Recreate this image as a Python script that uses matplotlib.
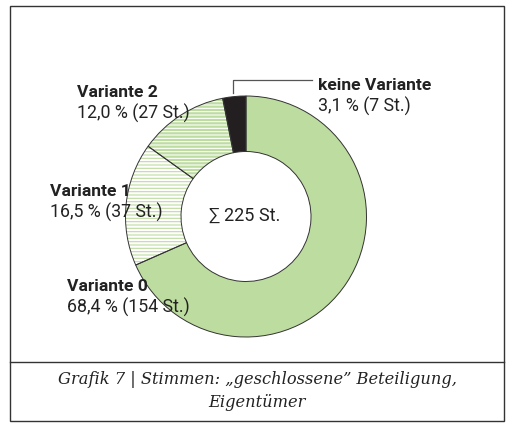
import matplotlib
matplotlib.use("Agg")
import matplotlib.pyplot as plt
from matplotlib.patches import Rectangle

# data
labels = ["Variante 0", "Variante 1", "Variante 2", "keine Variante"]
shares = [68.4, 16.5, 12.0, 3.1]
counts = [154, 37, 27, 7]
total = 225

green = "#bddc9f"
black = "#231f20"
dark = "#333333"
txt = "#222222"

plt.rcParams['font.family'] = ['Roboto', 'DejaVu Sans']
plt.rcParams['hatch.linewidth'] = 0.8

fig = plt.figure(figsize=(5.1, 4.3), dpi=100)
ax = fig.add_axes([0, 0, 1, 1])

H = 430
cx, cy = 246, H - 216.5
r_out, r_in = 120.5, 65

# fill first (with hatches), outline afterwards
wedges, _ = ax.pie(shares, center=(cx, cy), radius=r_out, startangle=90,
                   counterclock=False, frame=True,
                   wedgeprops=dict(width=r_out - r_in, linewidth=0))

styles = [
    dict(facecolor=green, edgecolor=green, hatch=None),
    dict(facecolor="white", edgecolor=green, hatch="-----"),
    dict(facecolor=green, edgecolor="white", hatch="-----"),
    dict(facecolor=black, edgecolor=black, hatch=None),
]
for w, s in zip(wedges, styles):
    w.set_facecolor(s['facecolor'])
    w.set_edgecolor(s['edgecolor'])
    if s['hatch']:
        w.set_hatch(s['hatch'])
    w.set_linewidth(0)

outline, _ = ax.pie(shares, center=(cx, cy), radius=r_out, startangle=90,
                    counterclock=False, frame=True,
                    wedgeprops=dict(width=r_out - r_in, fill=False,
                                    edgecolor=dark, linewidth=0.7))
ax.set_xlim(0, 510)
ax.set_ylim(0, 430)
ax.set_aspect('equal')
ax.axis('off')

# labels
label_pos = {
    "Variante 0": (67, 291),
    "Variante 1": (50, 196),
    "Variante 2": (77, 97),
    "keine Variante": (318, 90),
}
for name, pct, n in zip(labels, shares, counts):
    x, y = label_pos[name]
    ax.text(x, H - y, name, fontsize=12.6, fontweight='bold', color=txt,
            ha='left', va='baseline')
    sub = f"{pct:.1f} % ({n} St.)".replace('.', ',', 1)
    ax.text(x, H - y - 22, sub, fontsize=12.8, color=txt,
            ha='left', va='baseline')

# leader line for the small slice
ax.plot([233, 233, 312], [H - 93, H - 80, H - 80], color="#555555", lw=0.9)

ax.text(cx - 1, cy + 1, f"\u2211 {total} St.", fontsize=13, color=txt,
        ha='center', va='center')

# frame and caption box
ax.add_patch(Rectangle((10, H - 421), 494, 415, fill=False,
                       edgecolor="#333333", lw=1.0))
ax.plot([10, 504], [H - 362, H - 362], color="#333333", lw=1.0)
ax.text(257, H - 384, "Grafik 7 | Stimmen: \u201egeschlossene\u201d Beteiligung,",
        fontsize=11.7, family='DejaVu Serif', style='italic', color=txt,
        ha='center', va='baseline')
ax.text(257, H - 407, "Eigentümer", fontsize=11.7, family='DejaVu Serif',
        style='italic', color=txt, ha='center', va='baseline')

fig.savefig("out.png", dpi=100)
